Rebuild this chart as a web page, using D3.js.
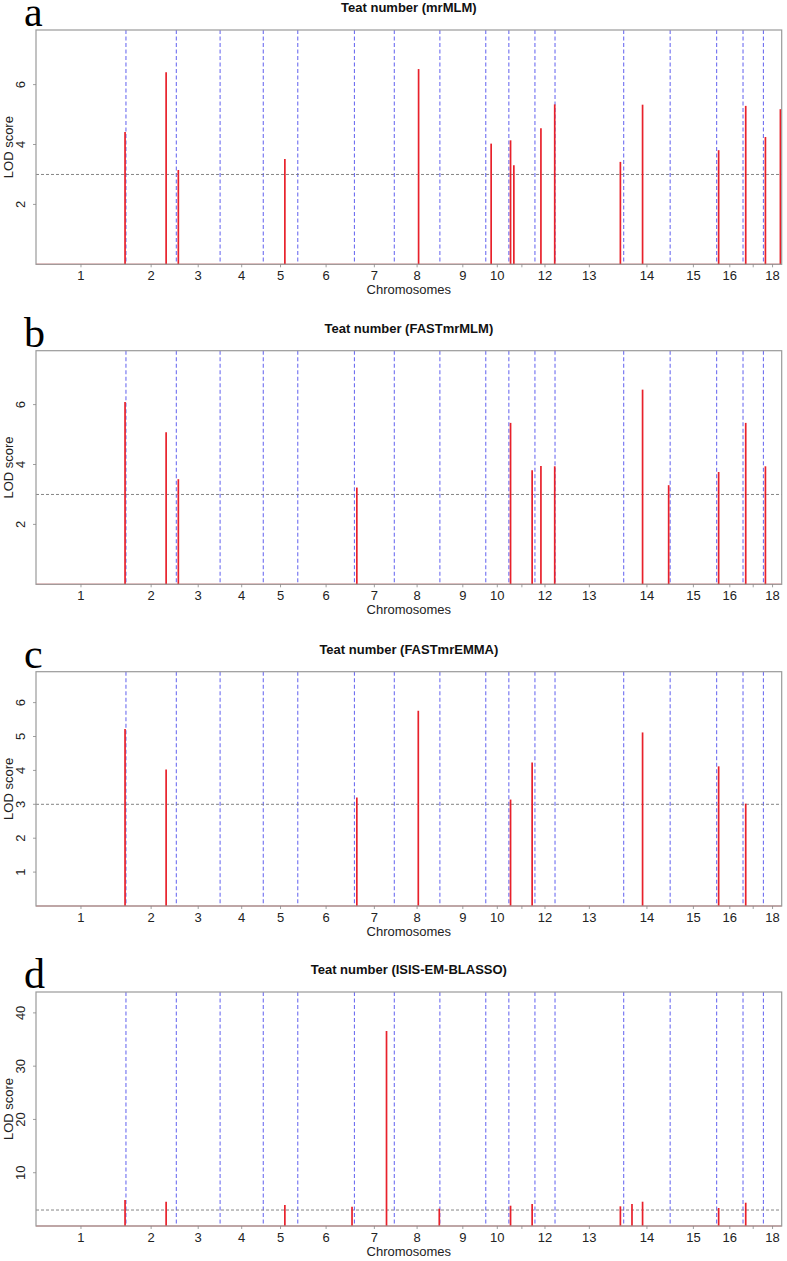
<!DOCTYPE html>
<html><head><meta charset="utf-8">
<script src="https://cdn.jsdelivr.net/npm/d3@7"></script>
<style>body{margin:0;background:#fff;}svg{display:block;}</style>
</head><body>
<svg id="chart" width="787" height="1261"></svg>
<script>
// Chromosome lengths (Mb)
const chromNames = ["1","2","3","4","5","6","7","8","9","10","11","12","13","14","15","16","17","18"];
const chromLengths = [300,168,146,144,115,189,133,152,153,77,87,67,229,155,155,88,68,61];
const chromLabelsShown = ["1","2","3","4","5","6","7","8","9","10","12","13","14","15","16","18"];

// Peaks: [chromosome, position within chromosome (Mb), LOD]
const peaksMrMLM = [[1,297,4.42],[2,134,6.41],[3,6.7,3.15],[5,72,3.52],[8,81,6.52],[10,18,4.03],[11,5.7,4.14],[11,16.7,3.31],[12,20,4.54],[12,66,5.34],[13,218,3.42],[14,63,5.33],[16,6.7,3.81],[17,9,5.29],[18,6.7,4.25],[18,56.7,5.18]];
const peaksFASTmrMLM = [[1,297,6.09],[2,134,5.08],[3,6.7,3.51],[7,8,3.23],[11,5.7,5.39],[11,77.7,3.81],[12,20,3.95],[12,66,3.94],[14,63,6.5],[14,150,3.31],[16,6.7,3.75],[17,9,5.39],[18,6.7,3.94]];
const peaksFASTmrEMMA = [[1,297,5.22],[2,134,4.03],[7,8,3.2],[8,80,5.76],[11,5.7,3.14],[11,77.7,4.23],[14,63,5.12],[16,6.7,4.12],[17,9,3.02]];
const peaksISIS = [[1,297,4.88],[2,134,4.56],[5,72,3.94],[6,181,3.62],[7,107,36.6],[8,150,3.25],[11,5.7,3.81],[11,77.7,4.13],[13,218,3.69],[14,27.7,4.13],[14,63,4.56],[16,6.7,3.38],[17,9,4.37]];

const panelLetters = ["a","b","c","d"];
const panelTitles = ["Teat number (mrMLM)","Teat number (FASTmrMLM)","Teat number (FASTmrEMMA)","Teat number (ISIS-EM-BLASSO)"];
const yTicksA = [2,4,6], yTicksB = [2,4,6], yTicksC = [1,2,3,4,5,6], yTicksD = [10,20,30,40];
const threshold = 3;

const panels = [
  {letter:panelLetters[0], title:panelTitles[0], peaks:peaksMrMLM, ticks:yTicksA, top:30, bottom:264.3},
  {letter:panelLetters[1], title:panelTitles[1], peaks:peaksFASTmrMLM, ticks:yTicksB, top:350.7, bottom:584.3},
  {letter:panelLetters[2], title:panelTitles[2], peaks:peaksFASTmrEMMA, ticks:yTicksC, top:671.7, bottom:906},
  {letter:panelLetters[3], title:panelTitles[3], peaks:peaksISIS, ticks:yTicksD, top:992, bottom:1226}
];

const svg = d3.select("#chart");
const left = 36, right = 781.7;
const starts = [];
let acc = 0;
chromLengths.forEach(l => { starts.push(acc); acc += l; });
const total = acc;
const x = d3.scaleLinear().domain([0,total]).range([left,right]);
const gpos = (c,p) => starts[c-1] + p;
const sans = "'Liberation Sans', Arial, sans-serif";

panels.forEach(pn => {
  const maxLod = d3.max(pn.peaks, d => d[2]);
  const y = d3.scaleLinear().domain([0, maxLod*1.2]).range([pn.bottom, pn.top]);
  const g = svg.append("g");

  // chromosome boundaries
  g.selectAll("line.bnd").data(starts.slice(1)).enter().append("line")
    .attr("x1", d=>x(d)).attr("x2", d=>x(d))
    .attr("y1", pn.top).attr("y2", pn.bottom)
    .attr("stroke","#6f6ff0").attr("stroke-width",1.1).attr("stroke-dasharray","4,2.5");

  // threshold
  g.append("line").attr("x1",left).attr("x2",right)
    .attr("y1",y(threshold)).attr("y2",y(threshold))
    .attr("stroke","#777").attr("stroke-width",0.9).attr("stroke-dasharray","3,2");

  // zero line (red)
  g.append("line").attr("x1",left).attr("x2",right)
    .attr("y1",y(0)).attr("y2",y(0))
    .attr("stroke","#e03030").attr("stroke-opacity",0.45).attr("stroke-width",1.5);

  // peaks
  g.selectAll("line.pk").data(pn.peaks).enter().append("line")
    .attr("x1", d=>x(gpos(d[0],d[1]))).attr("x2", d=>x(gpos(d[0],d[1])))
    .attr("y1", y(0)).attr("y2", d=>y(d[2]))
    .attr("stroke","#e8212b").attr("stroke-width",1.7);

  // box
  g.append("rect").attr("x",left).attr("y",pn.top)
    .attr("width",right-left).attr("height",pn.bottom-pn.top)
    .attr("fill","none").attr("stroke","#9a9a9a").attr("stroke-width",1.2);

  // x axis ticks and labels
  const centers = chromNames.map((n,i)=>({n, c: starts[i]+chromLengths[i]/2}));
  g.selectAll("line.xt").data(centers).enter().append("line")
    .attr("x1",d=>x(d.c)).attr("x2",d=>x(d.c))
    .attr("y1",pn.bottom).attr("y2",pn.bottom+3)
    .attr("stroke","#888").attr("stroke-width",0.8);
  g.selectAll("text.xl").data(centers.filter(d=>chromLabelsShown.includes(d.n))).enter().append("text")
    .attr("x",d=>x(d.c)).attr("y",pn.bottom+16)
    .attr("text-anchor","middle").attr("font-family",sans).attr("font-size",13)
    .attr("fill","#222").text(d=>d.n);
  g.append("text").attr("x",(left+right)/2).attr("y",pn.bottom+30)
    .attr("text-anchor","middle").attr("font-family",sans).attr("font-size",13)
    .attr("fill","#222").text("Chromosomes");

  // y axis ticks and labels
  g.selectAll("line.yt").data(pn.ticks).enter().append("line")
    .attr("x1",left-3).attr("x2",left).attr("y1",d=>y(d)).attr("y2",d=>y(d))
    .attr("stroke","#888").attr("stroke-width",0.8);
  g.selectAll("text.yl").data(pn.ticks).enter().append("text")
    .attr("transform",d=>`translate(25,${y(d)}) rotate(-90)`)
    .attr("text-anchor","middle").attr("font-family",sans).attr("font-size",13)
    .attr("fill","#222").text(d=>d);
  g.append("text")
    .attr("transform",`translate(12.5,${(pn.top+pn.bottom)/2}) rotate(-90)`)
    .attr("text-anchor","middle").attr("font-family",sans).attr("font-size",13)
    .attr("fill","#222").text("LOD score");

  // title
  g.append("text").attr("x",(left+right)/2).attr("y",pn.top-18)
    .attr("text-anchor","middle").attr("font-family",sans).attr("font-size",13)
    .attr("font-weight","bold").attr("fill","#111").text(pn.title);

  // panel letter
  g.append("text").attr("x",24).attr("y",pn.top-4)
    .attr("font-family","'Liberation Serif','Times New Roman',serif").attr("font-size",42)
    .attr("fill","#000").text(pn.letter);
});
</script>
</body></html>
